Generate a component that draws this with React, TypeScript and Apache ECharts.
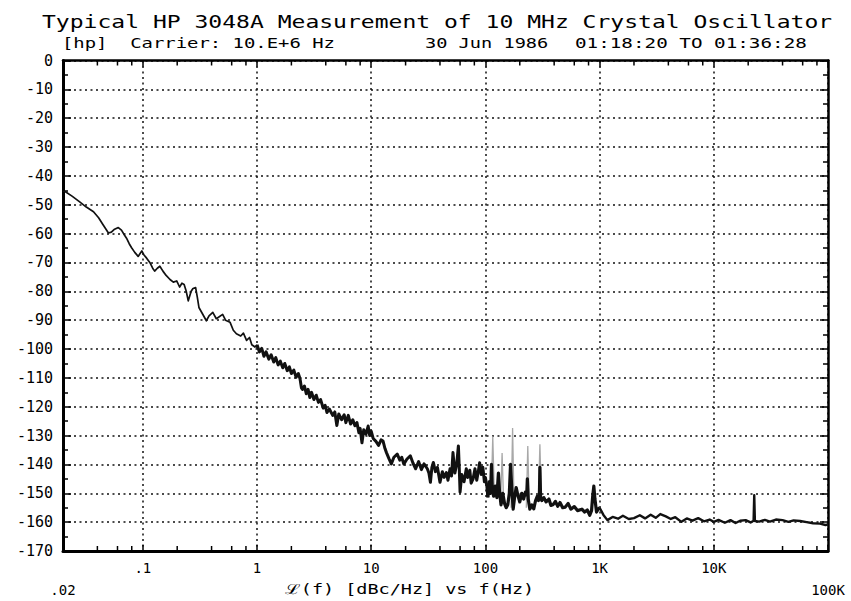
import React, { useEffect, useRef } from 'react';
import * as echarts from 'echarts';

// ---- axis definitions ----
const xTickValues = [0.02, 0.1, 1, 10, 100, 1000, 10000, 100000];
const xTickLabels = ['.02', '.1', '1', '10', '100', '1K', '10K', '100K'];
const xMinorTicks = [
  0.04, 0.06, 0.08, 0.2, 0.4, 0.6, 0.8, 2, 4, 6, 8, 20, 40, 60, 80,
  200, 400, 600, 800, 2000, 4000, 6000, 8000, 20000, 40000, 60000, 80000,
];
const yMin = -170;
const yMax = 0;
const yStep = 10;

// ---- measured trace: [offset frequency Hz, L(f) dBc/Hz] ----
const closeInNoise = [
  [0.02, -45.3], [0.021, -45.5], [0.024, -47], [0.028, -49], [0.032, -50.8], [0.037, -52.4],
  [0.041, -54.5], [0.045, -57], [0.05, -59.8], [0.053, -59.5], [0.056, -58.6], [0.061, -57.9],
  [0.065, -58.8], [0.069, -60.5], [0.072, -61.6], [0.076, -63.5], [0.08, -65], [0.085, -66.5],
  [0.091, -67.9], [0.095, -66.8], [0.098, -66], [0.102, -67.3], [0.108, -68.5], [0.116, -70.2],
  [0.122, -72], [0.127, -73], [0.134, -72], [0.141, -71.3], [0.15, -73], [0.16, -74.5],
  [0.173, -75.9], [0.185, -76.8], [0.198, -76.4], [0.21, -78.5], [0.22, -77.2], [0.23, -77.6],
  [0.24, -80], [0.25, -83.3], [0.265, -80], [0.275, -79], [0.29, -78.7], [0.3, -82],
  [0.31, -85.6], [0.33, -87.5], [0.36, -90.2], [0.38, -88.5], [0.41, -87.3], [0.44, -89.5],
  [0.46, -89], [0.5, -88], [0.53, -90], [0.58, -90.7], [0.62, -93.5], [0.66, -94.7],
  [0.72, -95.5], [0.76, -94.5], [0.81, -97], [0.86, -96], [0.9, -98.5], [0.96, -99.3],
  [1.0, -98.5],
];
const flickerNoise = [
  [1.0, -98.5], [1.05, -101], [1.1, -99.8], [1.15, -102.5], [1.2, -101], [1.27, -103.5],
  [1.33, -102], [1.4, -104.5], [1.46, -103], [1.53, -105.5], [1.6, -104.2], [1.68, -106.5],
  [1.75, -105], [1.84, -107.5], [1.92, -106.2], [2.0, -108.5], [2.1, -107.3], [2.2, -109.8],
  [2.3, -108.5], [2.38, -110.3], [2.45, -113.5], [2.5, -114], [2.6, -112.8], [2.7, -115.5],
  [2.8, -114], [2.9, -116.8], [3.0, -115], [3.15, -117.5], [3.3, -116], [3.45, -118.5],
  [3.6, -117.5], [3.8, -120.5], [3.95, -119.5], [4.1, -122], [4.3, -120.8], [4.6, -123],
  [4.8, -121.8], [5.0, -126.5], [5.2, -122.5], [5.5, -124.5], [5.8, -122.8], [6.0, -125.5],
  [6.3, -123], [6.6, -126], [6.9, -124.5], [7.2, -126.6], [7.5, -125.5], [7.8, -129],
  [8.0, -127.5], [8.3, -132.5], [8.6, -128], [9.0, -129.5], [9.4, -126.7], [9.7, -130],
  [10.0, -128.5], [10.4, -131], [11.0, -132], [11.6, -133.4], [12.2, -131.5], [12.7, -131.9],
  [13.2, -134.5], [13.6, -135.9], [14.3, -138], [15.0, -139.8], [15.8, -137.5], [16.9, -136.4],
  [17.8, -138.5], [18.5, -137.5], [19.3, -139.9], [20.5, -138.2], [22, -137], [23.2, -139.5],
  [24.5, -141.5], [26, -139], [27.5, -141.8], [29, -139.8], [31, -141.5], [32, -143],
  [33, -146.2], [34, -141], [35, -139.3], [36.5, -142.5], [38, -141], [40, -146.2],
  [42, -142.5], [43.5, -144.5], [45.5, -142.8], [47, -145.5], [49, -141.5], [50.5, -144],
  [52, -135.9], [54, -143], [56, -140], [58, -133.6], [59, -141], [60, -149.6],
  [62, -143.5], [65, -146], [68, -141.5], [70, -144.5], [73, -142], [75, -146.5],
  [78, -145], [81, -141.5], [84, -145.5], [87, -142], [89, -139.4], [92, -143.5],
  [95, -141], [98, -146], [100, -144.5], [103, -147.5], [105, -151.4],
];
const spurRegion = [
  [105, -151.4], [108, -146], [111, -150], [113, -140], [115, -148.5], [118, -151], [122, -147.5],
  [126, -151.5], [130, -143], [133, -149.5], [137, -154], [142, -150], [147, -153.5],
  [152, -155], [157, -154], [162, -150], [166, -140], [170, -148], [175, -155.5],
  [180, -151.5], [186, -148], [192, -150.5], [200, -153], [208, -150], [216, -152],
  [224, -149.6], [230, -150.5], [233, -145], [237, -152], [245, -155.5], [255, -154],
  [265, -155.4], [275, -152.5], [285, -151], [292, -152.5], [297, -150.7], [300, -141],
  [304, -151], [312, -152.5], [325, -151.5], [340, -153], [360, -152], [375, -154.2],
  [390, -154], [410, -152.8], [430, -154.5], [450, -153.2], [475, -155], [500, -154.8],
  [530, -153.5], [560, -155.5], [600, -154.6], [640, -156], [700, -155.5], [740, -156.5],
  [780, -155.8], [820, -157.6], [850, -156], [870, -151], [890, -147.5], [910, -152],
  [940, -156.5], [970, -155.5], [1000, -155],
];
const noiseFloor = [
  [1000, -155], [1080, -157.5], [1170, -159.3], [1300, -158.2], [1450, -158.8], [1600, -157.8],
  [1800, -158.9], [2000, -158.6], [2250, -157.6], [2500, -158.7], [2800, -157.4], [3100, -158.5],
  [3400, -157.2], [3800, -158], [4200, -158.9], [4600, -158.3], [5200, -159.9], [5800, -158.7],
  [6500, -159.5], [7300, -158.6], [8200, -159.7], [9200, -159.1], [10000, -159.9], [11000, -159.2],
  [12500, -160.2], [14000, -159.3], [15500, -160.3], [17000, -159.5], [19000, -159.3], [21000, -160.1],
  [22300, -159.5], [22600, -150.7], [22900, -159.6], [25000, -159.8], [28000, -159.2], [31000, -159.8],
  [35000, -159.1], [40000, -159.3], [45000, -159.9], [50000, -159.4], [57000, -159.6], [65000, -160],
  [74000, -160.4], [85000, -160.5], [95000, -161], [100000, -160.8],
];

// ---- discrete spurs (drawn faint grey in the original plot) ----
const spurFreq = [116, 140, 173, 235, 300];
const spurBase = [-150, -153, -155, -155, -152];
const spurTop = [-130.2, -136, -127.4, -133.6, -133];

const FONT = "'DejaVu Sans Mono', monospace";

function xLabel(v: number): string {
  let best = 0;
  let bestD = Infinity;
  xTickValues.forEach((t, i) => {
    const d = Math.abs(Math.log10(v) - Math.log10(t));
    if (d < bestD) { bestD = d; best = i; }
  });
  if (bestD > 0.02) return '';
  const lab = xTickLabels[best];
  return best === 0 || best === xTickLabels.length - 1 ? '\n' + lab : lab;
}

export default function App() {
  const ref = useRef<HTMLDivElement>(null);
  useEffect(() => {
    document.body.style.margin = '0';
    const chart = echarts.init(ref.current!, null, { renderer: 'svg' });
    const tickStyle = { color: '#000', width: 1.5 };
    const traceSeries = (name: string, data: number[][], width: number) => ({
      type: 'line', name, xAxisIndex: 0, yAxisIndex: 0, z: 3,
      data, showSymbol: false, symbol: 'none',
      lineStyle: { color: '#111', width, join: 'round' },
    });
    chart.setOption({
      animation: false,
      backgroundColor: '#fff',
      grid: { left: 63, right: 23, top: 60.5, bottom: 45, containLabel: false },
      xAxis: [
        {
          type: 'log', logBase: 10, min: 0.02, max: 100000, splitNumber: 7,
          axisLine: { onZero: false, lineStyle: { color: '#000', width: 3 } },
          axisTick: { inside: true, length: 6, lineStyle: tickStyle },
          minorTick: { show: false },
          splitLine: { show: true, lineStyle: { color: '#111', width: 1.5, type: [2, 3.5] } },
          axisLabel: {
            showMinLabel: true, showMaxLabel: true, hideOverlap: false,
            margin: 6, lineHeight: 22, fontFamily: FONT, fontSize: 14, color: '#000',
            formatter: (v: number) => xLabel(v),
          },
        },
        {
          type: 'log', logBase: 10, min: 0.02, max: 100000, splitNumber: 7, position: 'top',
          axisLine: { onZero: false, lineStyle: { color: '#000', width: 2.5 } },
          axisTick: { inside: true, length: 6, lineStyle: tickStyle },
          splitLine: { show: false },
          axisLabel: { show: false },
        },
      ],
      yAxis: [
        {
          type: 'value', min: yMin, max: yMax, interval: yStep,
          axisLine: { show: true, onZero: false, lineStyle: { color: '#000', width: 3 } },
          axisTick: { show: true, inside: true, length: 8, lineStyle: tickStyle },
          minorTick: { show: true, splitNumber: 2, length: 5, lineStyle: tickStyle },
          splitLine: { show: true, lineStyle: { color: '#111', width: 1.5, type: [2, 3.5] } },
          axisLabel: { margin: 10, fontFamily: FONT, fontSize: 15, color: '#000' },
        },
        {
          type: 'value', min: yMin, max: yMax, interval: yStep, position: 'right',
          axisLine: { show: true, onZero: false, lineStyle: { color: '#000', width: 2.5 } },
          axisTick: { show: true, inside: true, length: 8, lineStyle: tickStyle },
          minorTick: { show: true, splitNumber: 2, length: 5, lineStyle: tickStyle },
          splitLine: { show: false },
          axisLabel: { show: false },
        },
      ],
      graphic: [
        {
          type: 'text', x: 42, y: 22, scaleX: 1.355,
          style: {
            text: 'Typical HP 3048A Measurement of 10 MHz Crystal Oscillator',
            font: `17px ${FONT}`, fill: '#000', textAlign: 'left', textVerticalAlign: 'middle',
          },
        },
        {
          type: 'text', x: 62, y: 43, scaleX: 1.35,
          style: { text: '[hp]  Carrier: 10.E+6 Hz', font: `14px ${FONT}`, fill: '#000', textAlign: 'left', textVerticalAlign: 'middle' },
        },
        {
          type: 'text', x: 425, y: 43, scaleX: 1.33,
          style: { text: '30 Jun 1986', font: `14px ${FONT}`, fill: '#000', textAlign: 'left', textVerticalAlign: 'middle' },
        },
        {
          type: 'text', x: 575, y: 43, scaleX: 1.376,
          style: { text: '01:18:20 TO 01:36:28', font: `14px ${FONT}`, fill: '#000', textAlign: 'left', textVerticalAlign: 'middle' },
        },
        {
          type: 'text', x: 285, y: 589, scaleX: 1.32,
          style: { text: 'ℒ(f) [dBc/Hz] vs f(Hz)', font: `14px ${FONT}`, fill: '#000', textAlign: 'left', textVerticalAlign: 'middle' },
        },
      ],
      series: [
        {
          type: 'custom', name: 'minorTicks', xAxisIndex: 0, yAxisIndex: 0, silent: true, clip: false,
          data: xMinorTicks.map((f) => [f, yMin]),
          encode: { x: 0, y: 1 },
          renderItem: (_p: any, api: any) => {
            const f = api.value(0);
            const b = api.coord([f, yMin]);
            const t = api.coord([f, yMax]);
            return {
              type: 'group',
              children: [
                { type: 'line', shape: { x1: b[0], y1: b[1], x2: b[0], y2: b[1] - 5 }, style: { stroke: '#000', lineWidth: 1.5 } },
                { type: 'line', shape: { x1: t[0], y1: t[1], x2: t[0], y2: t[1] + 5 }, style: { stroke: '#000', lineWidth: 1.5 } },
              ],
            };
          },
        },
        {
          type: 'custom', name: 'spurs', xAxisIndex: 0, yAxisIndex: 0, silent: true, z: 2,
          data: spurFreq.map((f, i) => [f, spurBase[i], spurTop[i]]),
          encode: { x: 0, y: [1, 2] },
          renderItem: (_p: any, api: any) => {
            const f = api.value(0);
            const pb = api.coord([f, api.value(1)]);
            const pt = api.coord([f, api.value(2)]);
            return {
              type: 'polyline',
              shape: { points: [[pb[0] - 1.5, pb[1]], [pt[0], pt[1]], [pb[0] + 1.5, pb[1]]] },
              style: { stroke: '#a8a8a8', fill: 'none', lineWidth: 1.3 },
            };
          },
        },
        traceSeries('closeIn', closeInNoise, 1.7),
        traceSeries('flicker', flickerNoise, 3),
        traceSeries('spurRegion', spurRegion, 3.2),
        traceSeries('floor', noiseFloor, 2.4),
      ],
    });
    return () => chart.dispose();
  }, []);
  return <div ref={ref} style={{ position: 'fixed', left: 0, top: 0, width: 851, height: 601, background: '#fff' }} />;
}
